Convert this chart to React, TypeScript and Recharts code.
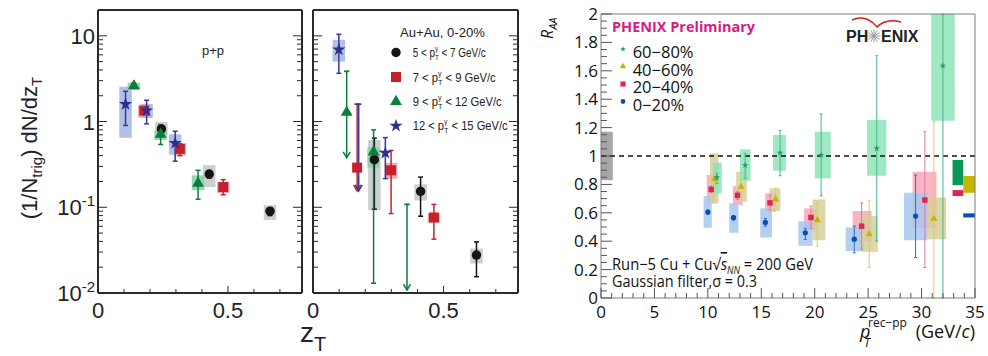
import React from "react";
import {
  ErrorBar,
  ReferenceArea,
  ReferenceLine,
  Scatter,
  ScatterChart,
  Symbols,
  XAxis,
  YAxis,
} from "recharts";

const W = 988;
const H = 356;
const HEL = "'Liberation Sans', Arial, sans-serif";
const MYR = "'Open Sans', 'Noto Sans', sans-serif";

// ---------- z_T panels: per-trigger yields, one array per photon pT bin
// y = value, lo/hi = stat error bar ends, sLo/sHi = systematic box ends
const pp5to7 = [
  { z: 0.244, y: 0.82, lo: 0.78, hi: 0.87, sLo: 0.69, sHi: 0.99 },
  { z: 0.428, y: 0.244, lo: 0.22, hi: 0.265, sLo: 0.172, sHi: 0.31 },
  { z: 0.662, y: 0.09, lo: 0.08, hi: 0.098, sLo: 0.071, sHi: 0.106 },
];
const pp7to9 = [
  { z: 0.178, y: 1.34, lo: 1.25, hi: 1.45, sLo: 1.12, sHi: 1.55 },
  { z: 0.315, y: 0.48, lo: 0.4, hi: 0.55, sLo: 0.4, sHi: 0.56 },
  { z: 0.482, y: 0.172, lo: 0.14, hi: 0.21, sLo: 0.147, sHi: 0.197 },
];
const pp9to12 = [
  { z: 0.138, y: 2.6, lo: 2.45, hi: 2.8, sLo: 2.34, sHi: 2.84 },
  { z: 0.241, y: 0.71, lo: 0.54, hi: 0.92, sLo: 0.61, sHi: 0.79 },
  { z: 0.385, y: 0.19, lo: 0.124, hi: 0.27, sLo: 0.158, sHi: 0.236 },
];
const pp12to15 = [
  { z: 0.106, y: 1.59, lo: 0.9, hi: 2.25, sLo: 0.646, sHi: 2.55 },
  { z: 0.187, y: 1.34, lo: 0.94, hi: 1.77, sLo: 1.1, sHi: 1.61 },
  { z: 0.297, y: 0.56, lo: 0.345, hi: 0.77, sLo: 0.41, sHi: 0.71 },
];

const aa5to7 = [
  { z: 0.235, y: 0.359, lo: 0.095, hi: 0.64, sLo: 0.092, sHi: 0.61 },
  { z: 0.412, y: 0.153, lo: 0.0786, hi: 0.225, sLo: 0.12, sHi: 0.185 },
  { z: 0.626, y: 0.0277, lo: 0.0155, hi: 0.0395, sLo: 0.0221, sHi: 0.033 },
];
const aa7to9 = [
  { z: 0.169, y: 0.29 },
  { z: 0.299, y: 0.27, lo: 0.0845, hi: 0.46, sLo: 0.215, sHi: 0.33 },
  { z: 0.463, y: 0.076, lo: 0.0425, hi: 0.108, sLo: 0.066, sHi: 0.085 },
];
const aa9to12 = [
  { z: 0.129, y: 1.28 },
  { z: 0.232, y: 0.44, lo: 0.013, hi: 0.8, sLo: 0.29, sHi: 0.5 },
];
const aa12to15 = [
  { z: 0.099, y: 6.9, lo: 3.65, hi: 10.4, sLo: 5.0, sHi: 8.99 },
  { z: 0.277, y: 0.43, lo: 0.216, hi: 0.65 },
];
// upper limits in Au+Au: bin index, z, top of bar, arrow tip
const aaLimits = [
  { bin: 2, z: 0.129, top: 3.85, tip: 0.378 },
  { bin: 1, z: 0.169, top: 1.59, tip: 0.155 },
  { bin: 3, z: 0.175, top: 1.59, tip: 0.155 },
  { bin: 2, z: 0.36, top: 0.108, tip: 0.0108 },
];

const zTicks = [0, 0.1, 0.2, 0.3, 0.4, 0.5, 0.6, 0.7];
const logTicks = [0.01, 0.1, 1].flatMap((d) =>
  [1, 2, 3, 4, 5, 6, 7, 8, 9].map((k) => k * d)
).concat([10]);
const binLabels = ["5", "7", "9", "12", "15"];

// ---------- R_AA panel, one array per centrality
const cent6080 = [
  { x: 10.84, y: 0.85, lo: 0.807, hi: 0.878, xLo: 10.47, xHi: 11.31, sLo: 0.737, sHi: 0.953 },
  { x: 13.49, y: 0.936, lo: 0.843, hi: 1.019, xLo: 13.0, xHi: 14.0, sLo: 0.824, sHi: 1.047 },
  { x: 16.76, y: 1.023, lo: 0.861, hi: 1.18, xLo: 16.1, xHi: 17.3, sLo: 0.896, sHi: 1.148 },
  { x: 20.6, y: 1.007, lo: 0.72, hi: 1.296, xLo: 20.0, xHi: 21.5, sLo: 0.843, sHi: 1.171 },
  { x: 25.8, y: 1.054, lo: 0.4, hi: 1.706, xLo: 24.9, xHi: 26.7, sLo: 0.861, sHi: 1.254 },
  { x: 32.0, y: 1.635, lo: 0, hi: 2.0, xLo: 30.9, xHi: 33.1, sLo: 1.249, sHi: 2.0 },
];
const cent4060 = [
  { x: 10.62, y: 0.838, lo: 0.79, hi: 0.871, xLo: 10.2, xHi: 11.0, sLo: 0.666, sHi: 1.019 },
  { x: 13.11, y: 0.783, lo: 0.748, hi: 0.83, xLo: 12.65, xHi: 13.65, sLo: 0.678, sHi: 0.889 },
  { x: 16.35, y: 0.694, lo: 0.619, hi: 0.772, xLo: 15.76, xHi: 16.8, sLo: 0.614, sHi: 0.772 },
  { x: 20.24, y: 0.548, lo: 0.365, hi: 0.67, xLo: 19.8, xHi: 21.0, sLo: 0.407, sHi: 0.694 },
  { x: 25.1, y: 0.45, lo: 0.215, hi: 0.685, xLo: 24.3, xHi: 25.9, sLo: 0.325, sHi: 0.577 },
  { x: 31.15, y: 0.558, lo: 0, hi: 1.242, xLo: 30.5, xHi: 32.3, sLo: 0.414, sHi: 0.708 },
];
const cent2040 = [
  { x: 10.31, y: 0.765, lo: 0.74, hi: 0.79, xLo: 9.9, xHi: 10.7, sLo: 0.666, sHi: 0.866 },
  { x: 12.77, y: 0.723, lo: 0.694, hi: 0.748, xLo: 12.34, xHi: 13.27, sLo: 0.654, sHi: 0.788 },
  { x: 15.82, y: 0.67, lo: 0.619, hi: 0.725, xLo: 15.36, xHi: 16.38, sLo: 0.607, sHi: 0.737 },
  { x: 19.65, y: 0.567, lo: 0.49, hi: 0.647, xLo: 19.0, xHi: 20.3, sLo: 0.478, sHi: 0.631 },
  { x: 24.39, y: 0.506, lo: 0.342, hi: 0.67, xLo: 23.55, xHi: 25.33, sLo: 0.395, sHi: 0.612 },
  { x: 30.31, y: 0.69, lo: 0.215, hi: 1.171, xLo: 29.16, xHi: 31.4, sLo: 0.49, sHi: 0.889 },
];
const cent020 = [
  { x: 10.0, y: 0.605, lo: 0.59, hi: 0.62, xLo: 9.6, xHi: 10.37, sLo: 0.494, sHi: 0.718 },
  { x: 12.4, y: 0.565, lo: 0.55, hi: 0.58, xLo: 12.0, xHi: 12.86, sLo: 0.459, sHi: 0.666 },
  { x: 15.38, y: 0.532, lo: 0.506, hi: 0.56, xLo: 14.9, xHi: 16.0, sLo: 0.426, sHi: 0.631 },
  { x: 19.12, y: 0.459, lo: 0.412, hi: 0.49, xLo: 18.47, xHi: 19.8, sLo: 0.367, sHi: 0.541 },
  { x: 23.7, y: 0.414, lo: 0.318, hi: 0.506, xLo: 22.9, xHi: 24.6, sLo: 0.33, sHi: 0.497 },
  { x: 29.44, y: 0.577, lo: 0.285, hi: 0.866, xLo: 28.35, xHi: 30.52, sLo: 0.407, sHi: 0.741 },
];
// normalisation uncertainty boxes
const globalBoxes = [
  { key: "pp", x1: 0, x2: 1.1, y1: 0.83, y2: 1.171 },
  { key: "c6080", x1: 32.9, x2: 33.9, y1: 0.795, y2: 0.972 },
  { key: "c4060", x1: 33.9, x2: 35, y1: 0.741, y2: 0.859 },
  { key: "c2040", x1: 32.9, x2: 33.9, y1: 0.718, y2: 0.76 },
  { key: "c020", x1: 33.9, x2: 35, y1: 0.567, y2: 0.596 },
];
const centLabels = ["60\u221280%", "40\u221260%", "20\u221240%", "0\u221220%"];
const raaXTicks = Array.from({ length: 36 }, (_, i) => i);
const raaYTicks = Array.from({ length: 41 }, (_, i) => i * 0.05);

// ---------- styles
const binStyle = [
  { type: "circle", size: 70, color: "#141414", err: "#141414", box: "#c7c9cb" },
  { type: "square", size: 100, color: "#c8202b", err: "#c8202b", box: "#eca3ab" },
  { type: "triangle", size: 60, color: "#0b7d3e", err: "#0b7d3e", box: "#8ed0a1" },
  { type: "star", size: 55, color: "#2b2f93", err: "#3438a3", box: "#a9b9e1" },
];
const centStyle: Record<string, any> = {
  c6080: { type: "star", size: 14, color: "#1f9e6c", err: "#45b98a", box: "#8fe3b8", glob: "#0b9659" },
  c4060: { type: "triangle", size: 22, color: "#c4b300", err: "#d6cd6a", box: "#d6d09a", glob: "#c3b600" },
  c2040: { type: "square", size: 30, color: "#df2458", err: "#ea7598", box: "#f8a8b9", glob: "#df2458" },
  c020: { type: "circle", size: 22, color: "#0c4db3", err: "#3a6cc4", box: "#a6c8ee", glob: "#0c4db3" },
  pp: { glob: "#a6a6a6" },
};

const BOX_HALF = 0.024;
const FRAME = { stroke: "#2a2a2a", strokeWidth: 2 };

const withErr = (pts: any[]) =>
  pts.map((p) => ({
    ...p,
    err: p.lo != null ? [p.y - p.lo, p.hi - p.y] : [0, 0],
  }));

const marker = (type: any, size: number, color: string) => (p: any) =>
  <Symbols cx={p.cx} cy={p.cy} type={type} size={size} fill={color} />;

const arrowHead = (color: string) => (p: any) => (
  <path
    d={`M${p.cx - 3.5},${p.cy - 6} L${p.cx},${p.cy} L${p.cx + 3.5},${p.cy - 6}`}
    fill="none"
    stroke={color}
    strokeWidth={1.5}
  />
);

const empty = () => <g />;

const zTick = (bottom: boolean, labels: boolean) => (p: any) => {
  const v = Math.round(p.payload.value * 10) / 10;
  const len = v === 0.5 ? 7 : 4;
  const d = bottom ? -1 : 1;
  return (
    <g>
      <line x1={p.x} x2={p.x} y1={p.y} y2={p.y + d * len} stroke="#2a2a2a" strokeWidth={1} />
      {labels && (v === 0 || v === 0.5) && (
        <text x={p.x} y={p.y + 25} textAnchor="middle" fontSize={22} fontFamily={HEL} fill="#222">
          {String(v)}
        </text>
      )}
    </g>
  );
};

const logTick = (left: boolean, labels: boolean) => (p: any) => {
  const v = p.payload.value;
  const e = Math.round(Math.log10(v));
  const major = Math.abs(Math.log10(v) - e) < 1e-6;
  const len = major ? 9 : 5;
  const d = left ? 1 : -1;
  return (
    <g>
      <line x1={p.x} x2={p.x + d * len} y1={p.y} y2={p.y} stroke="#2a2a2a" strokeWidth={1} />
      {labels && major && (
        <text x={p.x - 3} y={p.y + 8} textAnchor="end" fontSize={22} fontFamily={HEL} fill="#222">
          {e >= 0 ? String(Math.pow(10, e)) : "10"}
          {e < 0 && (
            <tspan fontSize={15} dy={-9}>
              {String(e)}
            </tspan>
          )}
        </text>
      )}
    </g>
  );
};

// axes get a 1px band (a zero-sized axis is not drawn), margins take it back
function ZtPanel({ left, right, bins, limits, labels }: any) {
  return (
    <div style={{ position: "absolute", left: 0, top: 0 }}>
      <ScatterChart width={W} height={H} margin={{ top: 9, bottom: H - 294, left: left - 1, right: W - right - 1 }}>
        <XAxis type="number" dataKey="z" domain={[0, 0.785]} ticks={zTicks} interval={0} allowDataOverflow
          height={1} tickSize={0} tickMargin={0} tickLine={false} axisLine={FRAME} tick={zTick(true, true)} />
        <XAxis xAxisId="top" orientation="top" type="number" domain={[0, 0.785]} ticks={zTicks} interval={0}
          allowDataOverflow height={1} tickSize={0} tickMargin={0} tickLine={false} axisLine={FRAME}
          tick={zTick(false, false)} />
        <YAxis type="number" dataKey="y" scale="log" domain={[0.01, 20]} ticks={logTicks} interval={0}
          allowDataOverflow width={1} tickSize={0} tickMargin={0} tickLine={false} axisLine={FRAME}
          tick={logTick(true, labels)} />
        <YAxis yAxisId="right" orientation="right" type="number" scale="log" domain={[0.01, 20]} ticks={logTicks}
          interval={0} allowDataOverflow width={1} tickSize={0} tickMargin={0} tickLine={false} axisLine={FRAME}
          tick={logTick(false, false)} />
        {bins.map((pts: any[], b: number) =>
          pts
            .filter((p) => p.sLo != null)
            .map((p, i) => (
              <ReferenceArea key={`box${b}-${i}`} x1={p.z - BOX_HALF} x2={p.z + BOX_HALF} y1={p.sLo} y2={p.sHi}
                fill={binStyle[b].box} fillOpacity={0.9} stroke="none" ifOverflow="hidden" />
            ))
        )}
        {limits.map((l: any, i: number) => (
          <Scatter key={`lim${i}`} isAnimationActive={false} shape={empty}
            data={[{ z: l.z, y: l.top, drop: [l.top - l.tip, 0], cap: [0, 0] }]}>
            <ErrorBar dataKey="drop" direction="y" width={0} stroke={binStyle[l.bin].err} strokeWidth={1.5} />
            <ErrorBar dataKey="cap" direction="y" width={2.5} stroke={binStyle[l.bin].err} strokeWidth={1.5} />
          </Scatter>
        ))}
        {limits.map((l: any, i: number) => (
          <Scatter key={`tip${i}`} isAnimationActive={false} data={[{ z: l.z, y: l.tip }]}
            shape={arrowHead(binStyle[l.bin].err)} />
        ))}
        {bins.map((pts: any[], b: number) => (
          <Scatter key={`bin${b}`} isAnimationActive={false} data={withErr(pts)}
            shape={marker(binStyle[b].type, binStyle[b].size, binStyle[b].color)}>
            <ErrorBar dataKey="err" direction="y" width={2.5} stroke={binStyle[b].err} strokeWidth={1.5} />
          </Scatter>
        ))}
      </ScatterChart>
    </div>
  );
}

const raaXTick = (p: any) => {
  const v = p.payload.value;
  const major = v % 5 === 0;
  return (
    <g>
      <line x1={p.x} x2={p.x} y1={p.y} y2={p.y - (major ? 10 : 5)} stroke="#555" strokeWidth={1} />
      {major && (
        <text x={p.x} y={p.y + 20} textAnchor="middle" fontSize={17} fontFamily={MYR} fill="#111">
          {String(v)}
        </text>
      )}
    </g>
  );
};

const raaYTick = (p: any) => {
  const v = Math.round(p.payload.value * 100) / 100;
  const major = Math.round(v * 100) % 20 === 0;
  return (
    <g>
      <line x1={p.x} x2={p.x + (major ? 11 : 6)} y1={p.y} y2={p.y} stroke="#555" strokeWidth={1} />
      {major && (
        <text x={p.x - 3} y={p.y + 6} textAnchor="end" fontSize={17} fontFamily={MYR} fill="#111">
          {String(v)}
        </text>
      )}
    </g>
  );
};

const raaOrder = [
  { key: "c2040", pts: cent2040 },
  { key: "c020", pts: cent020 },
  { key: "c4060", pts: cent4060 },
  { key: "c6080", pts: cent6080 },
];

function RaaPanel() {
  const thin = { stroke: "#7a7a7a", strokeWidth: 1 };
  return (
    <div style={{ position: "absolute", left: 0, top: 0 }}>
      <ScatterChart width={W} height={H} margin={{ top: 13, bottom: H - 299, left: 600, right: W - 976 }}>
        <XAxis type="number" dataKey="x" domain={[0, 35]} ticks={raaXTicks} interval={0} allowDataOverflow
          height={1} tickSize={0} tickMargin={0} tickLine={false} axisLine={thin} tick={raaXTick} />
        <XAxis xAxisId="top" orientation="top" type="number" domain={[0, 35]} allowDataOverflow height={1}
          tickLine={false} axisLine={thin} tick={false} />
        <YAxis type="number" dataKey="y" domain={[0, 2]} ticks={raaYTicks} interval={0} allowDataOverflow
          width={1} tickSize={0} tickMargin={0} tickLine={false} axisLine={thin} tick={raaYTick} />
        <YAxis yAxisId="right" orientation="right" type="number" domain={[0, 2]} allowDataOverflow width={1}
          tickLine={false} axisLine={thin} tick={false} />
        {raaOrder.map((s) =>
          s.pts.map((p, i) => (
            <ReferenceArea key={`${s.key}${i}`} x1={p.xLo} x2={p.xHi} y1={p.sLo} y2={p.sHi}
              fill={centStyle[s.key].box} fillOpacity={0.85} stroke="none" ifOverflow="hidden" />
          ))
        )}
        {globalBoxes.map((g) => (
          <ReferenceArea key={`g${g.key}`} x1={g.x1} x2={g.x2} y1={g.y1} y2={g.y2}
            fill={centStyle[g.key].glob} fillOpacity={1} stroke="none" />
        ))}
        <ReferenceLine y={1} stroke="#111" strokeWidth={1.5} strokeDasharray="5 4" />
        {raaOrder.map((s) => (
          <Scatter key={s.key} isAnimationActive={false} data={withErr(s.pts)}
            shape={marker(centStyle[s.key].type, centStyle[s.key].size, centStyle[s.key].color)}>
            <ErrorBar dataKey="err" direction="y" width={1.5} stroke={centStyle[s.key].err} strokeWidth={1} />
          </Scatter>
        ))}
      </ScatterChart>
    </div>
  );
}

function Annotations() {
  const legendY = [57, 81.5, 106, 130.3];
  const legendW = [73, 83, 89, 95];
  const centY = [49, 66.5, 84, 101.5];
  const centKeys = ["c6080", "c4060", "c2040", "c020"];
  const spokes = Array.from({ length: 12 }, (_, i) => (i * Math.PI) / 6);
  return (
    <svg width={W} height={H} style={{ position: "absolute", left: 0, top: 0, pointerEvents: "none" }}>
      {/* left panels */}
      <text transform="translate(37,148) rotate(-90)" textAnchor="middle" fontSize={22} fontFamily={HEL} fill="#222">
        (1/N<tspan fontSize={15} dy={5}>trig</tspan>
        <tspan dy={-5}>) dN/dz</tspan>
        <tspan fontSize={15} dy={5}>T</tspan>
      </text>
      <text x={300} y={342} fontSize={28} fontFamily={HEL} fill="#222">
        z<tspan fontSize={20} dy={9}>T</tspan>
      </text>
      <text x={202} y={55} fontSize={13} fontFamily={HEL} fill="#222">p+p</text>
      <text x={400} y={37} fontSize={12.5} fontFamily={HEL} fill="#222" textLength={85} lengthAdjust="spacingAndGlyphs">
        Au+Au, 0-20%
      </text>
      {binStyle.map((s, i) => (
        <g key={`lg${i}`}>
          <Symbols cx={396} cy={legendY[i] - 4.5} type={s.type as any} size={s.size} fill={s.color} />
          <text x={412.7} y={legendY[i]} fontSize={12.5} fontFamily={HEL} fill="#222"
            textLength={legendW[i]} lengthAdjust="spacingAndGlyphs">
            {`${binLabels[i]} < p`}
            <tspan fontSize={8} dy={-6}>{"\u03b3"}</tspan>
            <tspan fontSize={8} dx={-4} dy={9}>T</tspan>
            <tspan dy={-3}>{` < ${binLabels[i + 1]} GeV/c`}</tspan>
          </text>
        </g>
      ))}

      {/* R_AA panel */}
      <text transform="translate(553,39) rotate(-90)" fontSize={16} fontFamily={MYR} fontStyle="italic" fill="#111">
        R<tspan fontSize={11} dy={4}>AA</tspan>
      </text>
      <text x={612} y={31.5} fontSize={14} fontWeight="bold" fontFamily={MYR} fill="#d81b84"
        textLength={143} lengthAdjust="spacingAndGlyphs">
        PHENIX Preliminary
      </text>
      {centKeys.map((k, i) => (
        <g key={k}>
          <Symbols cx={623} cy={centY[i]} type={centStyle[k].type} size={centStyle[k].size - 4} fill={centStyle[k].color} />
          <text x={632.7} y={centY[i] + 9} fontSize={16.5} fontFamily={MYR} fill="#111">
            {centLabels[i]}
          </text>
        </g>
      ))}
      <path d="M852,20 Q866,14 877,27 Q886,18 901,22" fill="none" stroke="#e01818" strokeWidth={1.5} />
      <text x={846} y={42} fontSize={16} fontWeight="bold" fontFamily={HEL} fill="#222">PH</text>
      {spokes.map((a, i) => (
        <line key={`sp${i}`} x1={874} y1={36} x2={874 + 6.5 * Math.cos(a)} y2={36 + 6.5 * Math.sin(a)}
          stroke="#9a9a9a" strokeWidth={1} />
      ))}
      <text x={881} y={42} fontSize={16} fontWeight="bold" fontFamily={HEL} fill="#222">ENIX</text>
      <text x={612} y={270} fontSize={16} fontFamily={MYR} fill="#111" textLength={201} lengthAdjust="spacingAndGlyphs">
        {"Run\u22125 Cu + Cu\u221a"}
        <tspan fontStyle="italic" textDecoration="overline">s</tspan>
        <tspan fontSize={10} fontStyle="italic" dy={4}>NN</tspan>
        <tspan dy={-4}>{" = 200 GeV"}</tspan>
      </text>
      <text x={612} y={287} fontSize={16} fontFamily={MYR} fill="#111" textLength={145} lengthAdjust="spacingAndGlyphs">
        {"Gaussian filter,\u03c3 = 0.3"}
      </text>
      <text x={860} y={338} fontSize={18} fontFamily={MYR} fontStyle="italic" fill="#111">p</text>
      <text x={864} y={347} fontSize={12} fontFamily={MYR} fontStyle="italic" fill="#111">T</text>
      <text x={868} y={327} fontSize={12} fontFamily={MYR} fill="#111">{"rec\u2212pp"}</text>
      <text x={975} y={338} textAnchor="end" fontSize={18} fontFamily={MYR} fill="#111">
        (GeV/<tspan fontStyle="italic">c</tspan>)
      </text>
    </svg>
  );
}

export default function App() {
  return (
    <div style={{ position: "absolute", left: 0, top: 0, width: W, height: H, background: "#fff" }}>
      <ZtPanel left={98} right={302} labels bins={[pp5to7, pp7to9, pp9to12, pp12to15]} limits={[]} />
      <ZtPanel left={313} right={518} labels={false} bins={[aa5to7, aa7to9, aa9to12, aa12to15]} limits={aaLimits} />
      <RaaPanel />
      <Annotations />
    </div>
  );
}
